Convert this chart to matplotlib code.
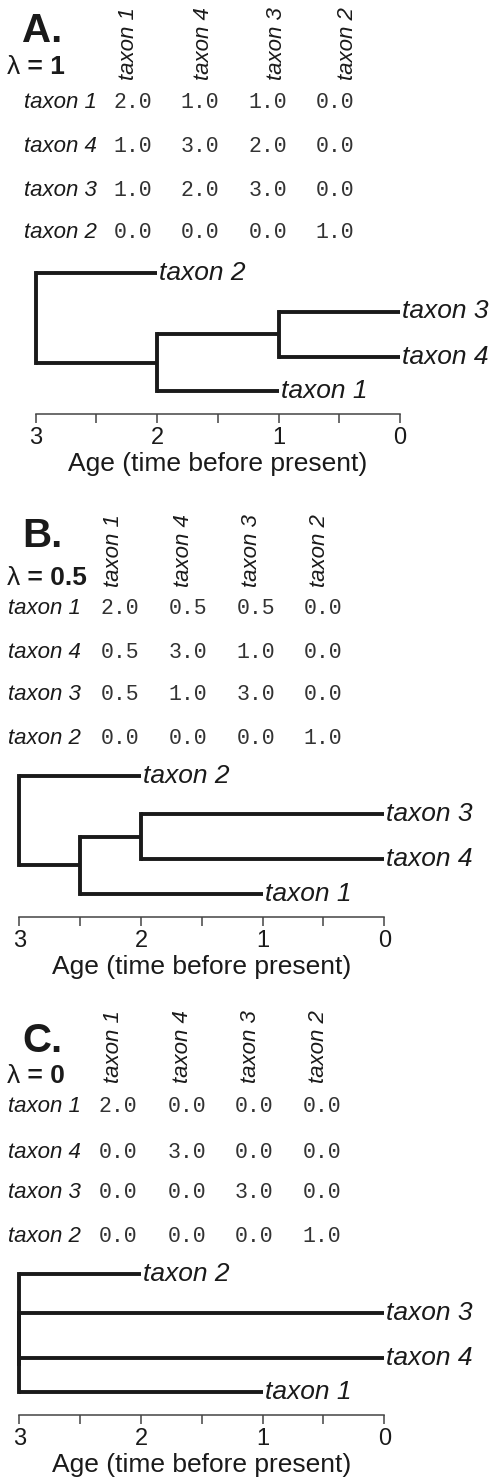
import numpy as np
import matplotlib
matplotlib.use("Agg")
import matplotlib.pyplot as plt
from matplotlib.ticker import FixedLocator, MultipleLocator

# ---------------------------------------------------------------- data
taxa = ["taxon 1", "taxon 4", "taxon 3", "taxon 2"]      # matrix row/column order
panel_letters = ["A.", "B.", "C."]
lambda_labels = ["1", "0.5", "0"]

# phylogenetic variance-covariance matrices (rows/cols in `taxa` order)
vcv_lambda_1 = [[2.0, 1.0, 1.0, 0.0],
                [1.0, 3.0, 2.0, 0.0],
                [1.0, 2.0, 3.0, 0.0],
                [0.0, 0.0, 0.0, 1.0]]
vcv_lambda_05 = [[2.0, 0.5, 0.5, 0.0],
                 [0.5, 3.0, 1.0, 0.0],
                 [0.5, 1.0, 3.0, 0.0],
                 [0.0, 0.0, 0.0, 1.0]]
vcv_lambda_0 = [[2.0, 0.0, 0.0, 0.0],
                [0.0, 3.0, 0.0, 0.0],
                [0.0, 0.0, 3.0, 0.0],
                [0.0, 0.0, 0.0, 1.0]]
matrices = [vcv_lambda_1, vcv_lambda_05, vcv_lambda_0]

# tree topology as nested tuples, children listed top to bottom
topology = ("taxon 2", (("taxon 3", "taxon 4"), "taxon 1"))
tip_order = ["taxon 2", "taxon 3", "taxon 4", "taxon 1"]

age_ticks = [3, 2, 1, 0]
age_label = "Age (time before present)"

# ---------------------------------------------------------------- layout (pixels)
W, H, DPI = 494, 1477, 100
layouts = [
    dict(letter=(22, 42), lam=(7, 74), head_x=[128, 203, 276, 347], head_y=80,
         row_x=97, row_y=[102, 147, 190, 232], num_x=[133, 200, 268, 335],
         x3=35.5, x0=400, axis_y=414),
    dict(letter=(22, 547), lam=(7, 585), head_x=[113, 183, 251, 319], head_y=587,
         row_x=81, row_y=[608, 653, 695, 738], num_x=[120, 188, 256, 323],
         x3=19.3, x0=384.3, axis_y=916.7),
    dict(letter=(22, 1052), lam=(7, 1083), head_x=[113, 182, 250, 318], head_y=1083,
         row_x=81, row_y=[1107, 1152, 1193, 1236], num_x=[118, 187, 254, 322],
         x3=19.3, x0=384.3, axis_y=1415),
]
tip_offsets = [-141.0, -102.5, -57.3, -23.0]   # tip rows above the age axis

SANS = "Liberation Sans"
MONO = "Liberation Mono"
INK = "#1a1a1a"
LW = 2.8

plt.rcParams["font.family"] = [SANS, "DejaVu Sans"]

fig = plt.figure(figsize=(W / DPI, H / DPI), dpi=DPI)
canvas = fig.add_axes([0, 0, 1, 1])
canvas.set_xlim(0, W)
canvas.set_ylim(H, 0)
canvas.axis("off")


def clade_tips(c):
    return [c] if isinstance(c, str) else [t for sub in c for t in clade_tips(sub)]


def draw_clade(ax, clade, vcv, root_age, tip_y):
    """Draw a clade; return (age, y) of its node."""
    idx = {t: i for i, t in enumerate(taxa)}
    if isinstance(clade, str):
        i = idx[clade]
        return root_age - vcv[i][i], tip_y[clade]
    left, right = clade_tips(clade[0]), clade_tips(clade[1])
    shared = min(vcv[idx[a]][idx[b]] for a in left for b in right)
    age = root_age - shared
    kids = [draw_clade(ax, k, vcv, root_age, tip_y) for k in clade]
    ys = [y for _, y in kids]
    ax.plot([age, age], [min(ys), max(ys)], color=INK, lw=LW,
            solid_capstyle="projecting", clip_on=False)
    for kage, ky in kids:
        ax.plot([age, kage], [ky, ky], color=INK, lw=LW,
                solid_capstyle="butt", clip_on=False)
    return age, float(np.mean(ys))


for letter, lam, vcv, L in zip(panel_letters, lambda_labels, matrices, layouts):
    # panel letter and lambda value
    canvas.text(*L["letter"], letter, fontsize=29, fontweight="bold",
                ha="left", va="baseline", color=INK)
    lam_txt = canvas.text(*L["lam"], "λ", fontsize=19, ha="left",
                          va="baseline", color=INK)
    canvas.annotate(" = " + lam, xy=(1, 0), xycoords=lam_txt, fontsize=19,
                    fontweight="bold", ha="left", va="bottom", color=INK)

    # matrix header and rows
    for name, hx in zip(taxa, L["head_x"]):
        canvas.text(hx, L["head_y"], name, rotation=90, fontsize=16,
                    fontstyle="italic", ha="center", va="bottom", color=INK)
    for r, (name, ry) in enumerate(zip(taxa, L["row_y"])):
        canvas.text(L["row_x"], ry, name, fontsize=16, fontstyle="italic",
                    ha="right", va="center", color=INK)
        for c, nx in enumerate(L["num_x"]):
            canvas.text(nx, ry, f"{vcv[r][c]:.1f}", family=MONO, fontsize=15.5,
                        ha="center", va="center", color="#333333")

    # tree
    ay = L["axis_y"]
    top = ay - 160
    ax = fig.add_axes([L["x3"] / W, 1 - ay / H,
                       (L["x0"] - L["x3"]) / W, (ay - top) / H])
    ax.set_xlim(3, 0)
    ax.set_ylim(ay, top)
    ax.patch.set_alpha(0)
    for s in ("top", "left", "right"):
        ax.spines[s].set_visible(False)
    ax.spines["bottom"].set_color("#444444")
    ax.spines["bottom"].set_linewidth(1.1)
    ax.set_yticks([])
    ax.xaxis.set_major_locator(FixedLocator(age_ticks))
    ax.xaxis.set_minor_locator(MultipleLocator(0.5))
    ax.set_xticklabels([str(v) for v in age_ticks])
    ax.tick_params(axis="x", which="both", direction="out", length=6.5,
                   width=1.1, color="#444444", labelsize=17, pad=3,
                   labelcolor=INK)
    ax.set_xlabel(age_label, fontsize=19, labelpad=2, color=INK)

    tip_y = {t: ay + off for t, off in zip(tip_order, tip_offsets)}
    root_age = max(vcv[i][i] for i in range(len(taxa)))
    draw_clade(ax, topology, vcv, root_age, tip_y)
    idx = {t: i for i, t in enumerate(taxa)}
    for t in tip_order:
        ax.annotate(t, xy=(root_age - vcv[idx[t]][idx[t]], tip_y[t]),
                    xytext=(1.5, 0), textcoords="offset points",
                    fontsize=19, fontstyle="italic", ha="left", va="center",
                    color=INK, annotation_clip=False)

fig.savefig("out.png", dpi=DPI)
